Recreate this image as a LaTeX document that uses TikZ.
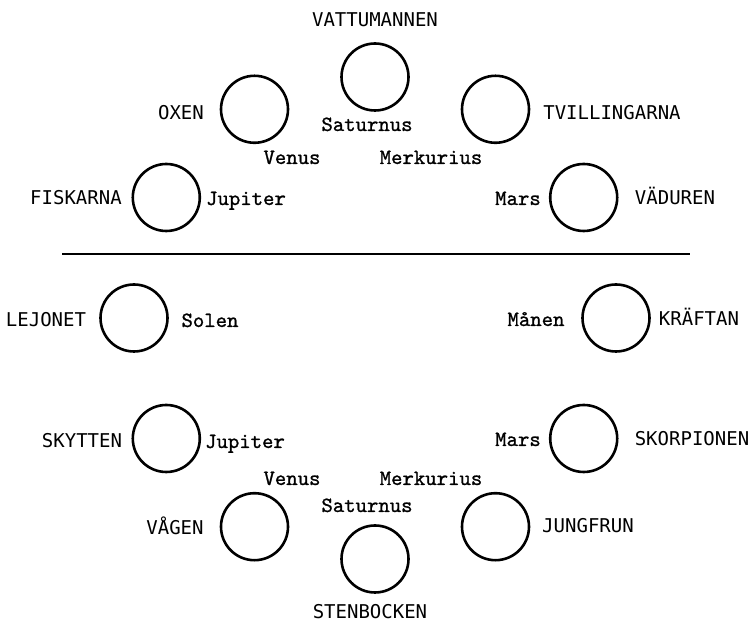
\documentclass[tikz,border=0pt]{standalone}
\usepackage{fontspec}
\newfontfamily\signfont{DejaVu Sans Mono}
\newfontfamily\planetfont{lmmono10-regular.otf}[FakeBold=1]

\tikzset{
	house/.style={draw, circle, line width=2.6pt, minimum size=67pt, inner sep=0pt},
	signlbl/.style={font=\signfont\fontsize{19}{19}\selectfont, anchor=base, inner sep=0pt},
	planetlbl/.style={font=\planetfont\fontsize{21.7}{22}\selectfont, anchor=base, inner sep=0pt},
}

\begin{document}
\begin{tikzpicture}[x=1pt, y=1pt]
	\useasboundingbox (0,0) rectangle (753,623);
	\coordinate (centre) at (375,305);

	% draw the twelve houses, 30 degrees apart round the centre
	\foreach \name/\ang in {vattumannen/90, tvillingarna/60, vaduren/30, kraftan/0,
		skorpionen/-30, jungfrun/-60, stenbocken/-90, vagen/-120,
		skytten/-150, lejonet/180, fiskarna/150, oxen/120} {
		\node[house] (\name) at ([shift={(\ang:241)}]centre) {};
	}

	% the horizon
	\coordinate (horizon-w) at (62,369);
	\coordinate (horizon-e) at (690,369);
	\draw[line width=2.6pt] (horizon-w) -- (horizon-e);

	% names of the signs
	\foreach \name/\x/\y/\txt in {vattumannen/375/596/VATTUMANNEN, oxen/181/503/OXEN,
		tvillingarna/612/503/TVILLINGARNA, fiskarna/76/418/FISKARNA, vaduren/675/418/VÄDUREN,
		lejonet/46/296/LEJONET, kraftan/699/297/KRÄFTAN, skytten/82/175/SKYTTEN,
		skorpionen/692/177/SKORPIONEN, vagen/175/88/VÅGEN, jungfrun/588/90/JUNGFRUN,
		stenbocken/370/4/STENBOCKEN} {
		\node[signlbl] (\name-txt) at (\x,\y) {\txt};
	}

	% planets standing in the houses
	\foreach \name/\x/\y/\txt in {saturnus-n/367/492/Saturnus, venus-n/292/459/Venus,
		merkurius-n/431/459/Merkurius, jupiter-n/246/418/Jupiter, mars-n/518/418/Mars,
		solen/210/296/Solen, manen/536/297/Månen, jupiter-s/245/175/Jupiter,
		mars-s/518/177/Mars, venus-s/292/138/Venus, merkurius-s/431/138/Merkurius,
		saturnus-s/367/111/Saturnus} {
		\node[planetlbl] (\name) at (\x,\y) {\txt};
	}
\end{tikzpicture}
\end{document}
